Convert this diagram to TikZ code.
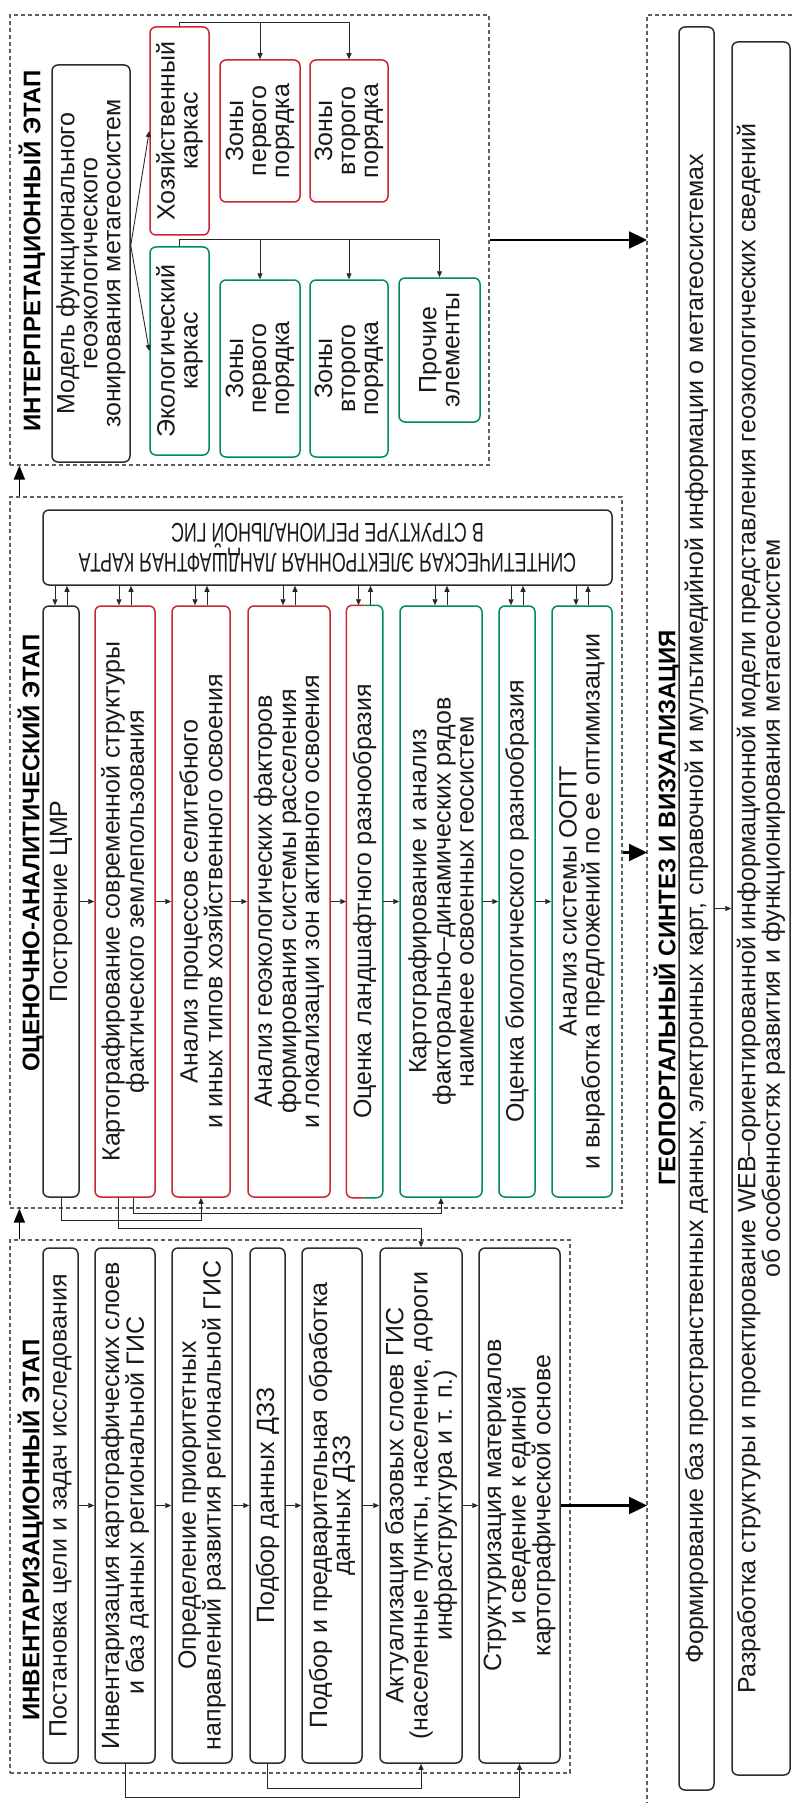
\documentclass[tikz,border=0pt]{standalone}
\usepackage{fontspec}
\setmainfont{Liberation Sans}
\newfontfamily\mapfamily{Liberation Sans}[FakeStretch=0.66]
\usetikzlibrary{arrows.meta,calc}
\definecolor{redc}{RGB}{204,38,48}
\definecolor{grnc}{RGB}{0,140,85}
\definecolor{boxk}{RGB}{45,45,45}
\definecolor{dashc}{RGB}{95,95,95}
\definecolor{linec}{RGB}{40,40,40}
\newcommand\boxfnt{\fontsize{25}{23}\selectfont}
\newcommand\titlefnt{\fontsize{24}{26}\selectfont\bfseries}
\newcommand\mapfnt{\mapfamily\fontsize{27}{30}\selectfont}
\begin{document}
\begin{tikzpicture}[x=1pt,y=1pt,
  bx0/.style={draw=boxk, line width=1.5pt, rounded corners=6pt, align=center, inner sep=0pt, font=\boxfnt, text=black!90},
  bx/.style={bx0, rotate=90},
  rbx/.style={bx, draw=redc},
  gbx/.style={bx, draw=grnc},
  ttl/.style={rotate=90, font=\titlefnt, inner sep=0pt},
  sec/.style={draw=dashc, line width=1.2pt, dash pattern=on 4pt off 3pt, inner sep=0pt},
  sar/.style={line width=0.9pt, draw=linec, -{Triangle[length=6pt,width=5pt]}},
  midar/.style={line width=1.6pt, draw=black, -{Triangle[length=14pt,width=11pt]}},
  bigar/.style={line width=2.3pt, draw=black, -{Triangle[length=18pt,width=17pt]}},
  halfb/.style={line width=1.5pt, rounded corners=6pt}
]
\useasboundingbox (0,0) rectangle (792,-1803);
\fill[white] (0,0) rectangle (792,-1803);

% sections
\node[sec, minimum width=479pt, minimum height=450pt] (sint) at (249.5,-240) {};
\node[sec, minimum width=612pt, minimum height=711pt] (seval) at (316,-852.5) {};
\node[sec, minimum width=560pt, minimum height=533pt] (sinv) at (290,-1506.5) {};
\coordinate (geoL) at (647,-15);
\coordinate (geoT) at (792,-15);
\coordinate (geoB) at (647,-1803);
\draw[sec] (geoT) -- (geoL) -- (geoB);

% titles
\node[ttl] (tint) at (32,-251) {ИНТЕРПРЕТАЦИОННЫЙ ЭТАП};
\node[ttl] (teval) at (31,-853) {ОЦЕНОЧНО-АНАЛИТИЧЕСКИЙ ЭТАП};
\node[ttl] (tinv) at (31,-1530) {ИНВЕНТАРИЗАЦИОННЫЙ ЭТАП};
\node[ttl] (tgeo) at (667,-908) {ГЕОПОРТАЛЬНЫЙ СИНТЕЗ И ВИЗУАЛИЗАЦИЯ};

% interpretation stage
\node[bx, minimum width=397pt, minimum height=78pt] (model) at (91,-263.5) {Модель функционального\\геоэкологического\\зонирования метагеосистем};
\node[rbx, minimum width=208pt, minimum height=59pt] (hoz) at (179.5,-131) {Хозяйственный\\каркас};
\node[gbx, minimum width=208pt, minimum height=59pt] (eko) at (179.5,-351) {Экологический\\каркас};
\node[rbx, minimum width=142pt, minimum height=80pt] (hz1) at (260,-131) {Зоны\\первого\\порядка};
\node[rbx, minimum width=142pt, minimum height=78pt] (hz2) at (349,-131) {Зоны\\второго\\порядка};
\node[gbx, minimum width=177pt, minimum height=80pt] (ek1) at (260,-368.5) {Зоны\\первого\\порядка};
\node[gbx, minimum width=177pt, minimum height=78pt] (ek2) at (349,-368.5) {Зоны\\второго\\порядка};
\node[gbx, minimum width=144pt, minimum height=81pt] (ek3) at (439.5,-350) {Прочие\\элементы};

\coordinate (ms) at ($(model.south)+(0,18)$);
\draw[sar] (ms) -- (hoz.north);
\draw[sar] (ms) -- (eko.north);
\draw[sar] (hoz.east) -- ++(0,4) -| (hz1.east);
\draw[sar] (hoz.east) -- ++(0,4) -| (hz2.east);
\draw[sar] (eko.east) -- ++(0,7) -| (ek1.east);
\draw[sar] (eko.east) -- ++(0,7) -| (ek2.east);
\draw[sar] (eko.east) -- ++(0,7) -| (ek3.east);

% evaluation stage
\node[bx0, rotate=180, minimum width=569pt, minimum height=75pt, font=\mapfnt] (map) at (327.5,-547.5) {СИНТЕТИЧЕСКАЯ ЭЛЕКТРОННАЯ ЛАНДШАФТНАЯ КАРТА\\В СТРУКТУРЕ РЕГИОНАЛЬНОЙ ГИС};
\node[bx, minimum width=591pt, minimum height=36pt] (e1) at (61,-901.5) {Построение ЦМР};
\node[rbx, minimum width=591pt, minimum height=60pt] (e2) at (125,-901.5) {Картографирование современной структуры\\фактического землепользования};
\node[rbx, minimum width=591pt, minimum height=58pt] (e3) at (201,-901.5) {Анализ процессов селитебного\\и иных типов хозяйственного освоения};
\node[rbx, minimum width=591pt, minimum height=82pt] (e4) at (289,-901.5) {Анализ геоэкологических факторов\\формирования системы расселения\\и локализации зон активного освоения};
\node[bx, draw=none, minimum width=591pt, minimum height=35pt] (e5) at (364.5,-901.5) {Оценка ландшафтного разнообразия};
\draw[halfb, redc] (e5.east) -| (e5.north) |- (e5.west);
\draw[halfb, grnc] (e5.east) -| (e5.south) |- (e5.west);
\node[gbx, minimum width=591pt, minimum height=82pt] (e6) at (441,-901.5) {Картографирование и анализ\\факторально–динамических рядов\\наименее освоенных геосистем};
\node[gbx, minimum width=591pt, minimum height=36pt] (e7) at (517,-901.5) {Оценка биологического разнообразия};
\node[gbx, minimum width=591pt, minimum height=60pt] (e8) at (582,-901.5) {Анализ системы ООПТ\\и выработка предложений по ее оптимизации};

\foreach \b in {e1,e2,e3,e4,e5,e6,e7,e8}{
  \coordinate (dn) at ($(\b.east)+(-6,0)$);
  \coordinate (up) at ($(\b.east)+(6,0)$);
  \draw[sar] (dn |- map.north) -- (dn);
  \draw[sar] (up) -- (up |- map.north);
}
\draw[sar] (e1.south) -- (e2.north);
\draw[sar] (e2.south) -- (e3.north);
\draw[sar] (e3.south) -- (e4.north);
\draw[sar] (e4.south) -- (e5.north);
\draw[sar] (e5.south) -- (e6.north);
\draw[sar] (e6.south) -- (e7.north);
\draw[sar] (e7.south) -- (e8.north);

% inventory stage
\node[bx, minimum width=515pt, minimum height=35pt] (i1) at (60.5,-1505.5) {Постановка цели и задач исследования};
\node[bx, minimum width=515pt, minimum height=60pt] (i2) at (125,-1505.5) {Инвентаризация картографических слоев\\и баз данных региональной ГИС};
\node[bx, minimum width=515pt, minimum height=60pt] (i3) at (202,-1505.5) {Определение приоритетных\\направлений развития региональной ГИС};
\node[bx, minimum width=515pt, minimum height=35pt] (i4) at (267.5,-1505.5) {Подбор данных ДЗЗ};
\node[bx, minimum width=515pt, minimum height=60pt] (i5) at (332,-1505.5) {Подбор и предварительная обработка\\данных ДЗЗ};
\node[bx, minimum width=515pt, minimum height=82pt] (i6) at (421,-1505.5) {Актуализация базовых слоев ГИС\\(населенные пункты, население, дороги\\инфраструктура и т. п.)};
\node[bx, minimum width=515pt, minimum height=81pt] (i7) at (519.5,-1505.5) {Структуризация материалов\\и сведение к единой\\картографической основе};

\draw[sar] (i1.south) -- (i2.north);
\draw[sar] (i2.south) -- (i3.north);
\draw[sar] (i3.south) -- (i4.north);
\draw[sar] (i4.south) -- (i5.north);
\draw[sar] (i5.south) -- (i6.north);
\draw[sar] (i6.south) -- (i7.north);

% cross connectors
\draw[sar] (e1.west) -- ++(0,-23) -| (e3.west);
\draw[sar] ($(e2.west)+(-7,0)$) -- ++(0,-31) -| (i6.east);
\draw[sar] ($(e2.west)+(8,0)$) -- ++(0,-16) -| (e6.west);
\draw[sar] (i2.west) -- ++(0,-34) -| (i7.west);
\draw[sar] (i4.west) -- ++(0,-25) -| (i6.west);

% geoportal
\node[bx, minimum width=1763pt, minimum height=35pt] (g1) at (696.5,-908.5) {Формирование баз пространственных данных, электронных карт, справочной и мультимедийной информации о метагеосистемах};
\node[bx, minimum width=1733pt, minimum height=58pt] (g2) at (761,-908.5) {Разработка структуры и проектирование WEB–ориентированной информационной модели представления геоэкологических сведений\\об особенностях развития и функционирования метагеосистем};
\draw[sar] (g1.south) -- (g2.north);

% stage arrows
\draw[midar] ($(sinv.north west)+(10,0)$) -- ($(seval.south west)+(10,0)$);
\draw[midar] ($(seval.north west)+(10,0)$) -- ($(sint.south west)+(10,0)$);
\draw[bigar] (sint.east) -- (sint.east -| geoL);
\draw[bigar] (seval.east) -- (seval.east -| geoL);
\draw[bigar] (i7.south) -- (i7.south -| geoL);
\end{tikzpicture}
\end{document}
